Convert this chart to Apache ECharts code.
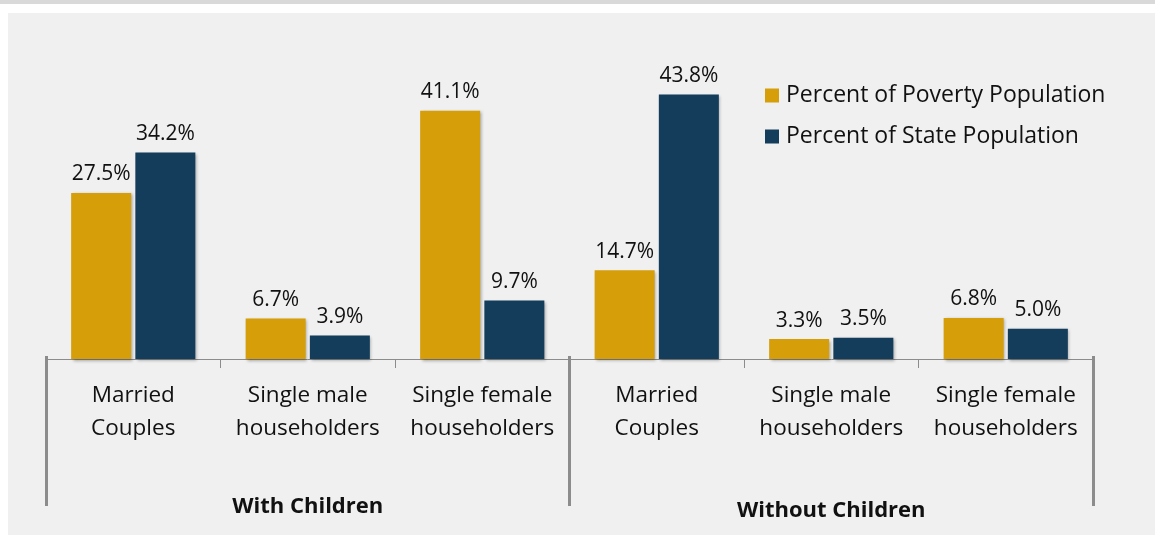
<!DOCTYPE html>
<html>
<head>
<meta charset="utf-8">
<script src="https://cdn.jsdelivr.net/npm/echarts@6/dist/echarts.min.js"></script>
<style>
html,body{margin:0;padding:0;background:#fff;}
#c{width:1155px;height:535px;}
</style>
</head>
<body>
<div id="c"></div>
<script>
const categories = ['Married\nCouples', 'Single male\nhouseholders', 'Single female\nhouseholders', 'Married\nCouples', 'Single male\nhouseholders', 'Single female\nhouseholders'];
const groups = ['With Children', 'Without Children'];
const povertyValues = [27.5, 6.7, 41.1, 14.7, 3.3, 6.8];
const stateValues = [34.2, 3.9, 9.7, 43.8, 3.5, 5.0];
const seriesNames = ['Percent of Poverty Population', 'Percent of State Population'];

const FONT = '"Open Sans", "Noto Sans", sans-serif';
const chart = echarts.init(document.getElementById('c'), null, {renderer: 'canvas'});
const labelCfg = {
  show: true, position: 'top', distance: 8,
  fontFamily: FONT, fontSize: 21, color: '#111',
  formatter: p => p.value.toFixed(1) + '%'
};
const shadow = {shadowBlur: 3, shadowOffsetX: 1.5, shadowOffsetY: 1.5, shadowColor: 'rgba(0,0,0,0.3)'};
chart.setOption({
  animation: false,
  backgroundColor: '#ffffff',
  graphic: [
    {type: 'rect', z: -10, silent: true, shape: {x: 0, y: 0, width: 1155, height: 4}, style: {fill: '#d9d9d9'}},
    {type: 'rect', z: -10, silent: true, shape: {x: 8, y: 13, width: 1147, height: 522}, style: {fill: '#f0f0f0'}}
  ],
  grid: {left: 46, right: 62, top: 57, bottom: 176, containLabel: false},
  legend: {
    orient: 'vertical', left: 760, top: 79,
    itemWidth: 14, itemHeight: 14, itemGap: 18,
    icon: 'rect',
    textStyle: {fontFamily: FONT, fontSize: 23, color: '#111', padding: [0, 0, 0, 2]},
    data: seriesNames
  },
  xAxis: [
    {
      type: 'category', data: categories, position: 'bottom',
      axisLine: {show: true, lineStyle: {color: '#8c8c8c', width: 1}},
      axisTick: {show: true, length: 9, lineStyle: {color: '#8c8c8c', width: 1}},
      axisLabel: {fontFamily: FONT, fontSize: 22.5, color: '#111', lineHeight: 33, margin: 20, interval: 0}
    },
    {
      type: 'category', data: groups, position: 'bottom', offset: -3,
      axisLine: {show: false},
      axisTick: {show: true, length: 150, lineStyle: {color: '#8c8c8c', width: 3}},
      axisLabel: {
        interval: 0, margin: 140,
        formatter: v => v === groups[0] ? '{a|' + v + '}' : '{b|' + v + '}',
        rich: {
          a: {fontFamily: FONT, fontSize: 22, fontWeight: 'bold', color: '#111', padding: [0, 0, 0, 0]},
          b: {fontFamily: FONT, fontSize: 22, fontWeight: 'bold', color: '#111', padding: [4, 0, 0, 0]}
        }
      }
    }
  ],
  yAxis: {type: 'value', min: 0, max: 50, show: false, splitLine: {show: false}},
  series: [
    {name: seriesNames[0], type: 'bar', data: povertyValues, barWidth: 60, barGap: '7%',
     itemStyle: Object.assign({color: '#d69f09'}, shadow), label: labelCfg},
    {name: seriesNames[1], type: 'bar', data: stateValues, barWidth: 60, barGap: '7%',
     itemStyle: Object.assign({color: '#133d5b'}, shadow), label: labelCfg}
  ]
});
</script>
</body>
</html>
